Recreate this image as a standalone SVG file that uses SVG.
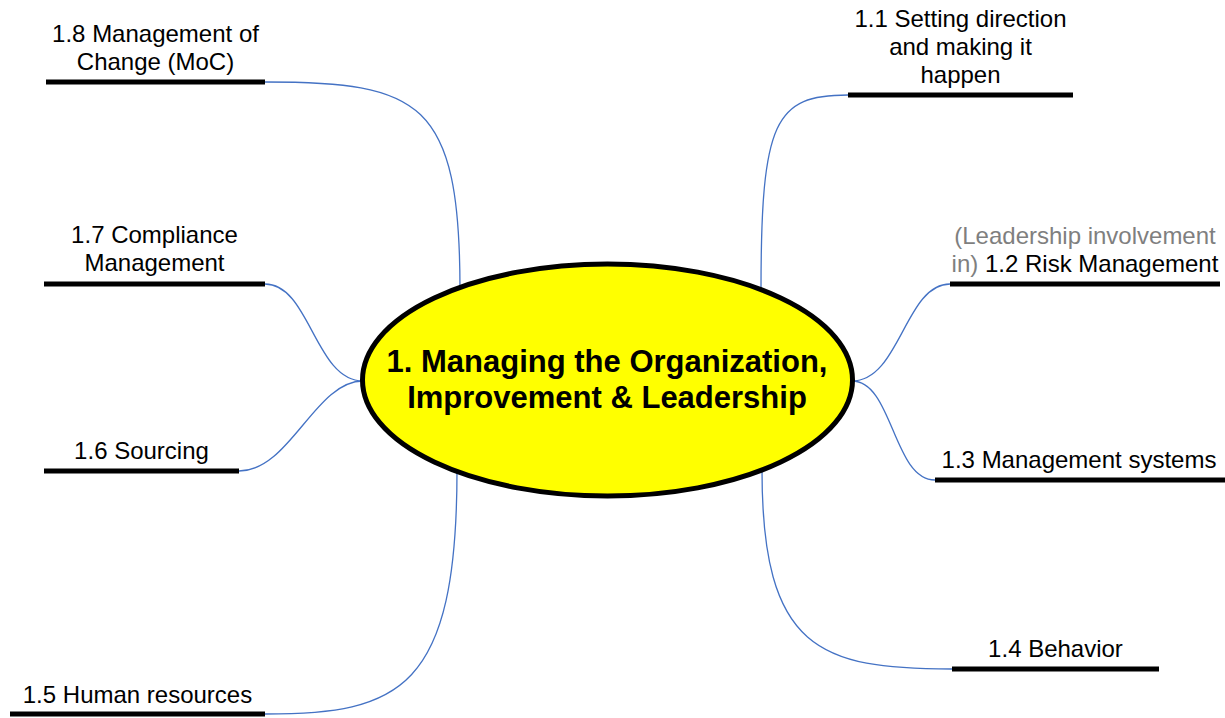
<svg xmlns="http://www.w3.org/2000/svg" width="1225" height="718" viewBox="0 0 1225 718">
<style>
.lbl{font-family:"Liberation Sans",Arial,sans-serif;font-size:24px;fill:#000;text-anchor:middle}
.grey{fill:#7f7f7f}
.bar{fill:#000}
.conn{fill:none;stroke:#4472C4;stroke-width:1.3}
.main{font-family:"Liberation Sans",Arial,sans-serif;font-size:31px;font-weight:bold;fill:#000;text-anchor:middle}
</style>
<rect width="1225" height="718" fill="#fff"/>
<g id="connectors">
<path class="conn" d="M761,290 C761,120 775,95 848,95"/>
<path class="conn" d="M852,381 C900,381 905,284 950,284"/>
<path class="conn" d="M852,381 C893,381 893,480 935,480"/>
<path class="conn" d="M762,470 C762,650 820,669 952,669"/>
<path class="conn" d="M457,470 C457,690 400,714 265,714"/>
<path class="conn" d="M363,381 C315,381 290,471 239,471"/>
<path class="conn" d="M363,381 C315,381 310,284 265,284"/>
<path class="conn" d="M460,290 C460,100 420,82 265,82"/>
</g>
<g id="center">
<ellipse cx="607.5" cy="380" rx="245" ry="116" fill="#ffff00" stroke="#000" stroke-width="5"/>
<text class="main" x="607" y="372">1. Managing the Organization,</text>
<text class="main" x="607" y="408">Improvement &amp; Leadership</text>
</g>
<g id="n11">
<rect class="bar" x="848" y="92.5" width="225" height="5"/>
<text class="lbl" x="960.5" y="27">1.1 Setting direction</text>
<text class="lbl" x="960.5" y="55">and making it</text>
<text class="lbl" x="960.5" y="83">happen</text>
</g>
<g id="n12">
<rect class="bar" x="950" y="281.5" width="270" height="5"/>
<text class="lbl grey" x="1085" y="244">(Leadership involvement</text>
<text class="lbl" x="1085" y="272"><tspan class="grey">in) </tspan>1.2 Risk Management</text>
</g>
<g id="n13">
<rect class="bar" x="935" y="477.5" width="290" height="5"/>
<text class="lbl" x="1079" y="468">1.3 Management systems</text>
</g>
<g id="n14">
<rect class="bar" x="952" y="666.5" width="207" height="5"/>
<text class="lbl" x="1055.5" y="657">1.4 Behavior</text>
</g>
<g id="n15">
<rect class="bar" x="10" y="711.5" width="255" height="5"/>
<text class="lbl" x="137.5" y="703">1.5 Human resources</text>
</g>
<g id="n16">
<rect class="bar" x="44" y="468.5" width="195" height="5"/>
<text class="lbl" x="141.5" y="459">1.6 Sourcing</text>
</g>
<g id="n17">
<rect class="bar" x="44" y="281.5" width="221" height="5"/>
<text class="lbl" x="154.5" y="243">1.7 Compliance</text>
<text class="lbl" x="154.5" y="271">Management</text>
</g>
<g id="n18">
<rect class="bar" x="46" y="79.5" width="219" height="5"/>
<text class="lbl" x="155.5" y="42">1.8 Management of</text>
<text class="lbl" x="155.5" y="70">Change (MoC)</text>
</g>
</svg>
